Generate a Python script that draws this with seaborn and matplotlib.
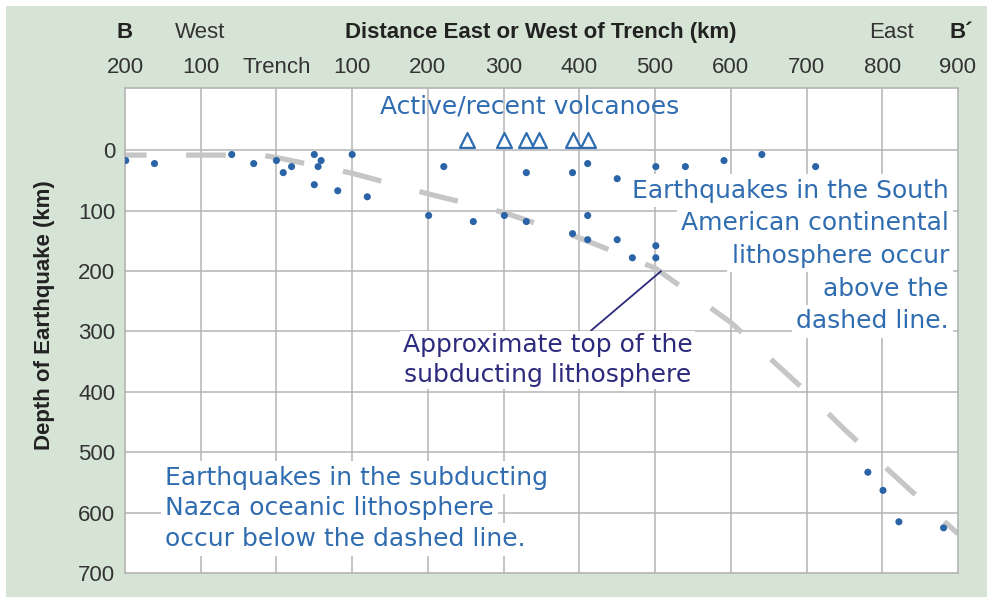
import numpy as np
import pandas as pd
import matplotlib
matplotlib.use("Agg")
import matplotlib.pyplot as plt
import seaborn as sns
from matplotlib.patches import Rectangle

# Earthquake hypocentres: distance from trench (km, west negative) and depth (km)
quake_x = [-199, -161, -59, -30, 0, 9, 20, 50, 59, 55, 50, 81, 100, 120,
           221, 330, 391, 411, 450, 501, 540, 591, 641, 712,
           201, 260, 301, 330, 411, 391, 411, 450, 470, 501, 501,
           781, 801, 822, 881]
quake_depth = [17, 22, 7, 22, 17, 37, 27, 7, 17, 27, 57, 67, 7, 77,
               27, 37, 37, 22, 47, 27, 27, 17, 7, 27,
               108, 118, 108, 118, 108, 138, 148, 148, 178, 158, 178,
               533, 563, 615, 625]

# Active / recent volcanoes
volcano_x = [252, 301, 330, 347, 391, 411]
volcano_depth = [-17, -17, -17, -17, -17, -17]

# Approximate top of the subducting slab (dashed line)
slab_x = [-200, -20, 0, 100, 200, 300, 400, 500, 600, 700, 750, 800, 900]
slab_depth = [8, 8, 12, 38, 72, 103, 145, 195, 285, 400, 462, 520, 635]

x_ticks = [-200, -100, 0, 100, 200, 300, 400, 500, 600, 700, 800, 900]
x_ticklabels = ["200", "100", "Trench", "100", "200", "300", "400",
                "500", "600", "700", "800", "900"]
y_ticks = [0, 100, 200, 300, 400, 500, 600, 700]

right_note = ["Earthquakes in the South", "American continental",
              "lithosphere occur", "above the", "dashed line."]
left_note = ["Earthquakes in the subducting", "Nazca oceanic lithosphere",
             "occur below the dashed line."]

quakes = pd.DataFrame({"x": quake_x, "depth": quake_depth})
volcanoes = pd.DataFrame({"x": volcano_x, "depth": volcano_depth})
slab = pd.DataFrame({"x": slab_x, "depth": slab_depth})

sns.set_style("white")
plt.rcParams["font.family"] = ["Liberation Sans", "DejaVu Sans"]

bg = "#d5e4d4"
grid_c = "#b4b4b4"
dot_c = "#2a64a6"
note_c = "#2f6cb0"
navy = "#2c2a7c"
text_c = "#333333"
hand = ["DejaVu Sans"]
note_size = 18

fig = plt.figure(figsize=(9.95, 5.97), dpi=100)
fig.patch.set_facecolor("white")
fig.patches.append(Rectangle((0.006, 0.0), 0.986, 0.99, transform=fig.transFigure,
                             facecolor=bg, edgecolor="none", zorder=-10))
ax = fig.add_axes([0.1256, 0.040, 0.8372, 0.8125])
ax.set_facecolor("white")

# grid
for gx in x_ticks[1:-1]:
    ax.axvline(gx, color=grid_c, lw=1.1, zorder=0)
for gy in y_ticks[:-1]:
    ax.axhline(gy, color=grid_c, lw=1.1, zorder=0)

sns.lineplot(data=slab, x="x", y="depth", ax=ax, color="#c6c6c6", lw=3.8,
             linestyle=(3.4, (7.5, 7.5)), solid_capstyle="butt", zorder=2)
sns.scatterplot(data=quakes, x="x", y="depth", ax=ax, color=dot_c, s=26,
                edgecolor="none", zorder=5)
sns.scatterplot(data=volcanoes, x="x", y="depth", ax=ax, marker="^", s=115,
                facecolor="white", edgecolor=note_c, linewidth=1.6, zorder=5)

ax.set_xlim(-200, 900)
ax.set_ylim(700, -103)
ax.xaxis.tick_top()
ax.set_xticks(x_ticks)
ax.set_xticklabels(x_ticklabels)
ax.set_yticks(y_ticks)
ax.tick_params(length=0, labelsize=16, labelcolor=text_c)
ax.tick_params(axis="x", pad=7)
ax.tick_params(axis="y", pad=7)
ax.set_xlabel("")
ax.set_ylabel("")
for sp in ax.spines.values():
    sp.set_color(grid_c)
    sp.set_linewidth(1.2)

# annotations
ax.text(335, -72, "Active/recent volcanoes", color=note_c, fontsize=note_size,
        family=hand, ha="center", va="center", zorder=4)

box = dict(boxstyle="square,pad=0.18", facecolor="white", edgecolor="none")
for i, line in enumerate(right_note):
    ax.text(888, 67 + i * 54, line, color=note_c, fontsize=note_size, family=hand,
            ha="right", va="center", bbox=box, zorder=3)
for i, line in enumerate(left_note):
    ax.text(-147, 542 + i * 51, line, color=note_c, fontsize=note_size, family=hand,
            ha="left", va="center", bbox=box, zorder=3)

ax.annotate("Approximate top of the\nsubducting lithosphere", xy=(508, 200),
            xytext=(358, 347), color=navy, fontsize=note_size, family=hand,
            ha="center", va="center", linespacing=1.3,
            bbox=dict(boxstyle="square,pad=0.1", facecolor="white", edgecolor="none"),
            arrowprops=dict(arrowstyle="-", color=navy, lw=1.3, relpos=(0.64, 1.0),
                            shrinkA=0, shrinkB=0), zorder=3)

# header labels
fig.text(0.1256, 0.945, "B", fontsize=16, fontweight="bold", color="#222222",
         ha="center", va="center")
fig.text(0.201, 0.945, "West", fontsize=16, color=text_c, ha="center", va="center")
fig.text(0.543, 0.945, "Distance East or West of Trench (km)", fontsize=16,
         fontweight="bold", color="#222222", ha="center", va="center")
fig.text(0.896, 0.945, "East", fontsize=16, color=text_c, ha="center", va="center")
fig.text(0.966, 0.945, "B\u00b4", fontsize=16, fontweight="bold", color="#222222",
         ha="center", va="center")
fig.text(0.045, 0.472, "Depth of Earthquake (km)", fontsize=16, fontweight="bold",
         color="#222222", rotation=90, ha="center", va="center")

fig.savefig("out.png", dpi=100)
